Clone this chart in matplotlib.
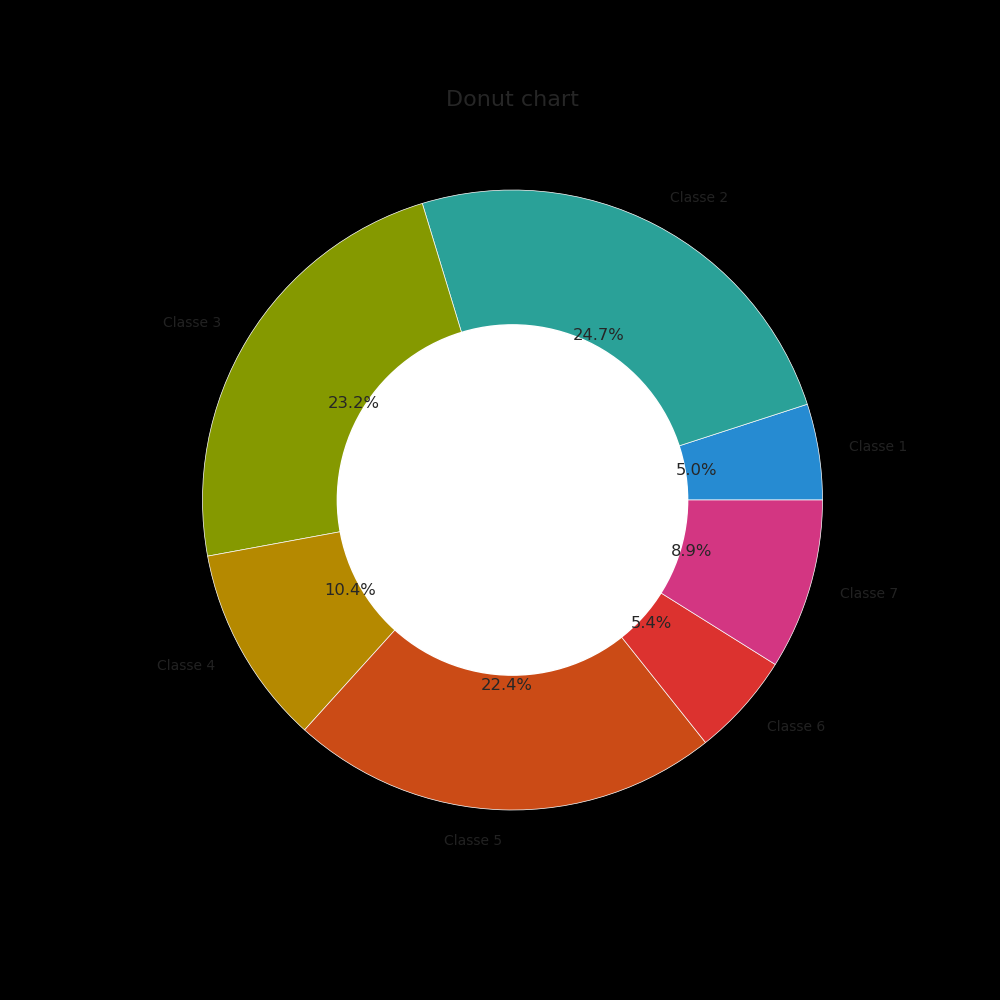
import matplotlib
matplotlib.use("Agg")
import matplotlib.pyplot as plt

labels = ["Classe 1", "Classe 2", "Classe 3", "Classe 4", "Classe 5", "Classe 6", "Classe 7"]
values = [5.0, 24.7, 23.2, 10.4, 22.4, 5.4, 8.9]
colors = ["#268bd2", "#2aa198", "#859900", "#b58900", "#cb4b16", "#dc322f", "#d33682"]

fig = plt.figure(figsize=(10, 10), dpi=100)
ax = fig.add_axes([0.125, 0.1125, 0.775, 0.775])
fig.patch.set_facecolor("black")
ax.set_facecolor("black")

wedges, texts, autotexts = ax.pie(
    values, labels=labels, colors=colors, autopct="%1.1f%%",
    startangle=0, counterclock=True, pctdistance=0.6, labeldistance=1.1,
    wedgeprops=dict(edgecolor="white", linewidth=0.5),
    textprops=dict(color="#262626"),
)
for t in texts:
    t.set_fontsize(10)
    t.set_color("#222222")
for t in autotexts:
    t.set_fontsize(11.8)
    t.set_color("#262626")

hole = plt.Circle((0, 0), 0.565, color="white")
ax.add_artist(hole)
ax.set_aspect("equal")
ax.set_title("Donut chart", fontsize=16, color="#262626", pad=5)

fig.savefig("out.png", dpi=100, facecolor=fig.get_facecolor())
